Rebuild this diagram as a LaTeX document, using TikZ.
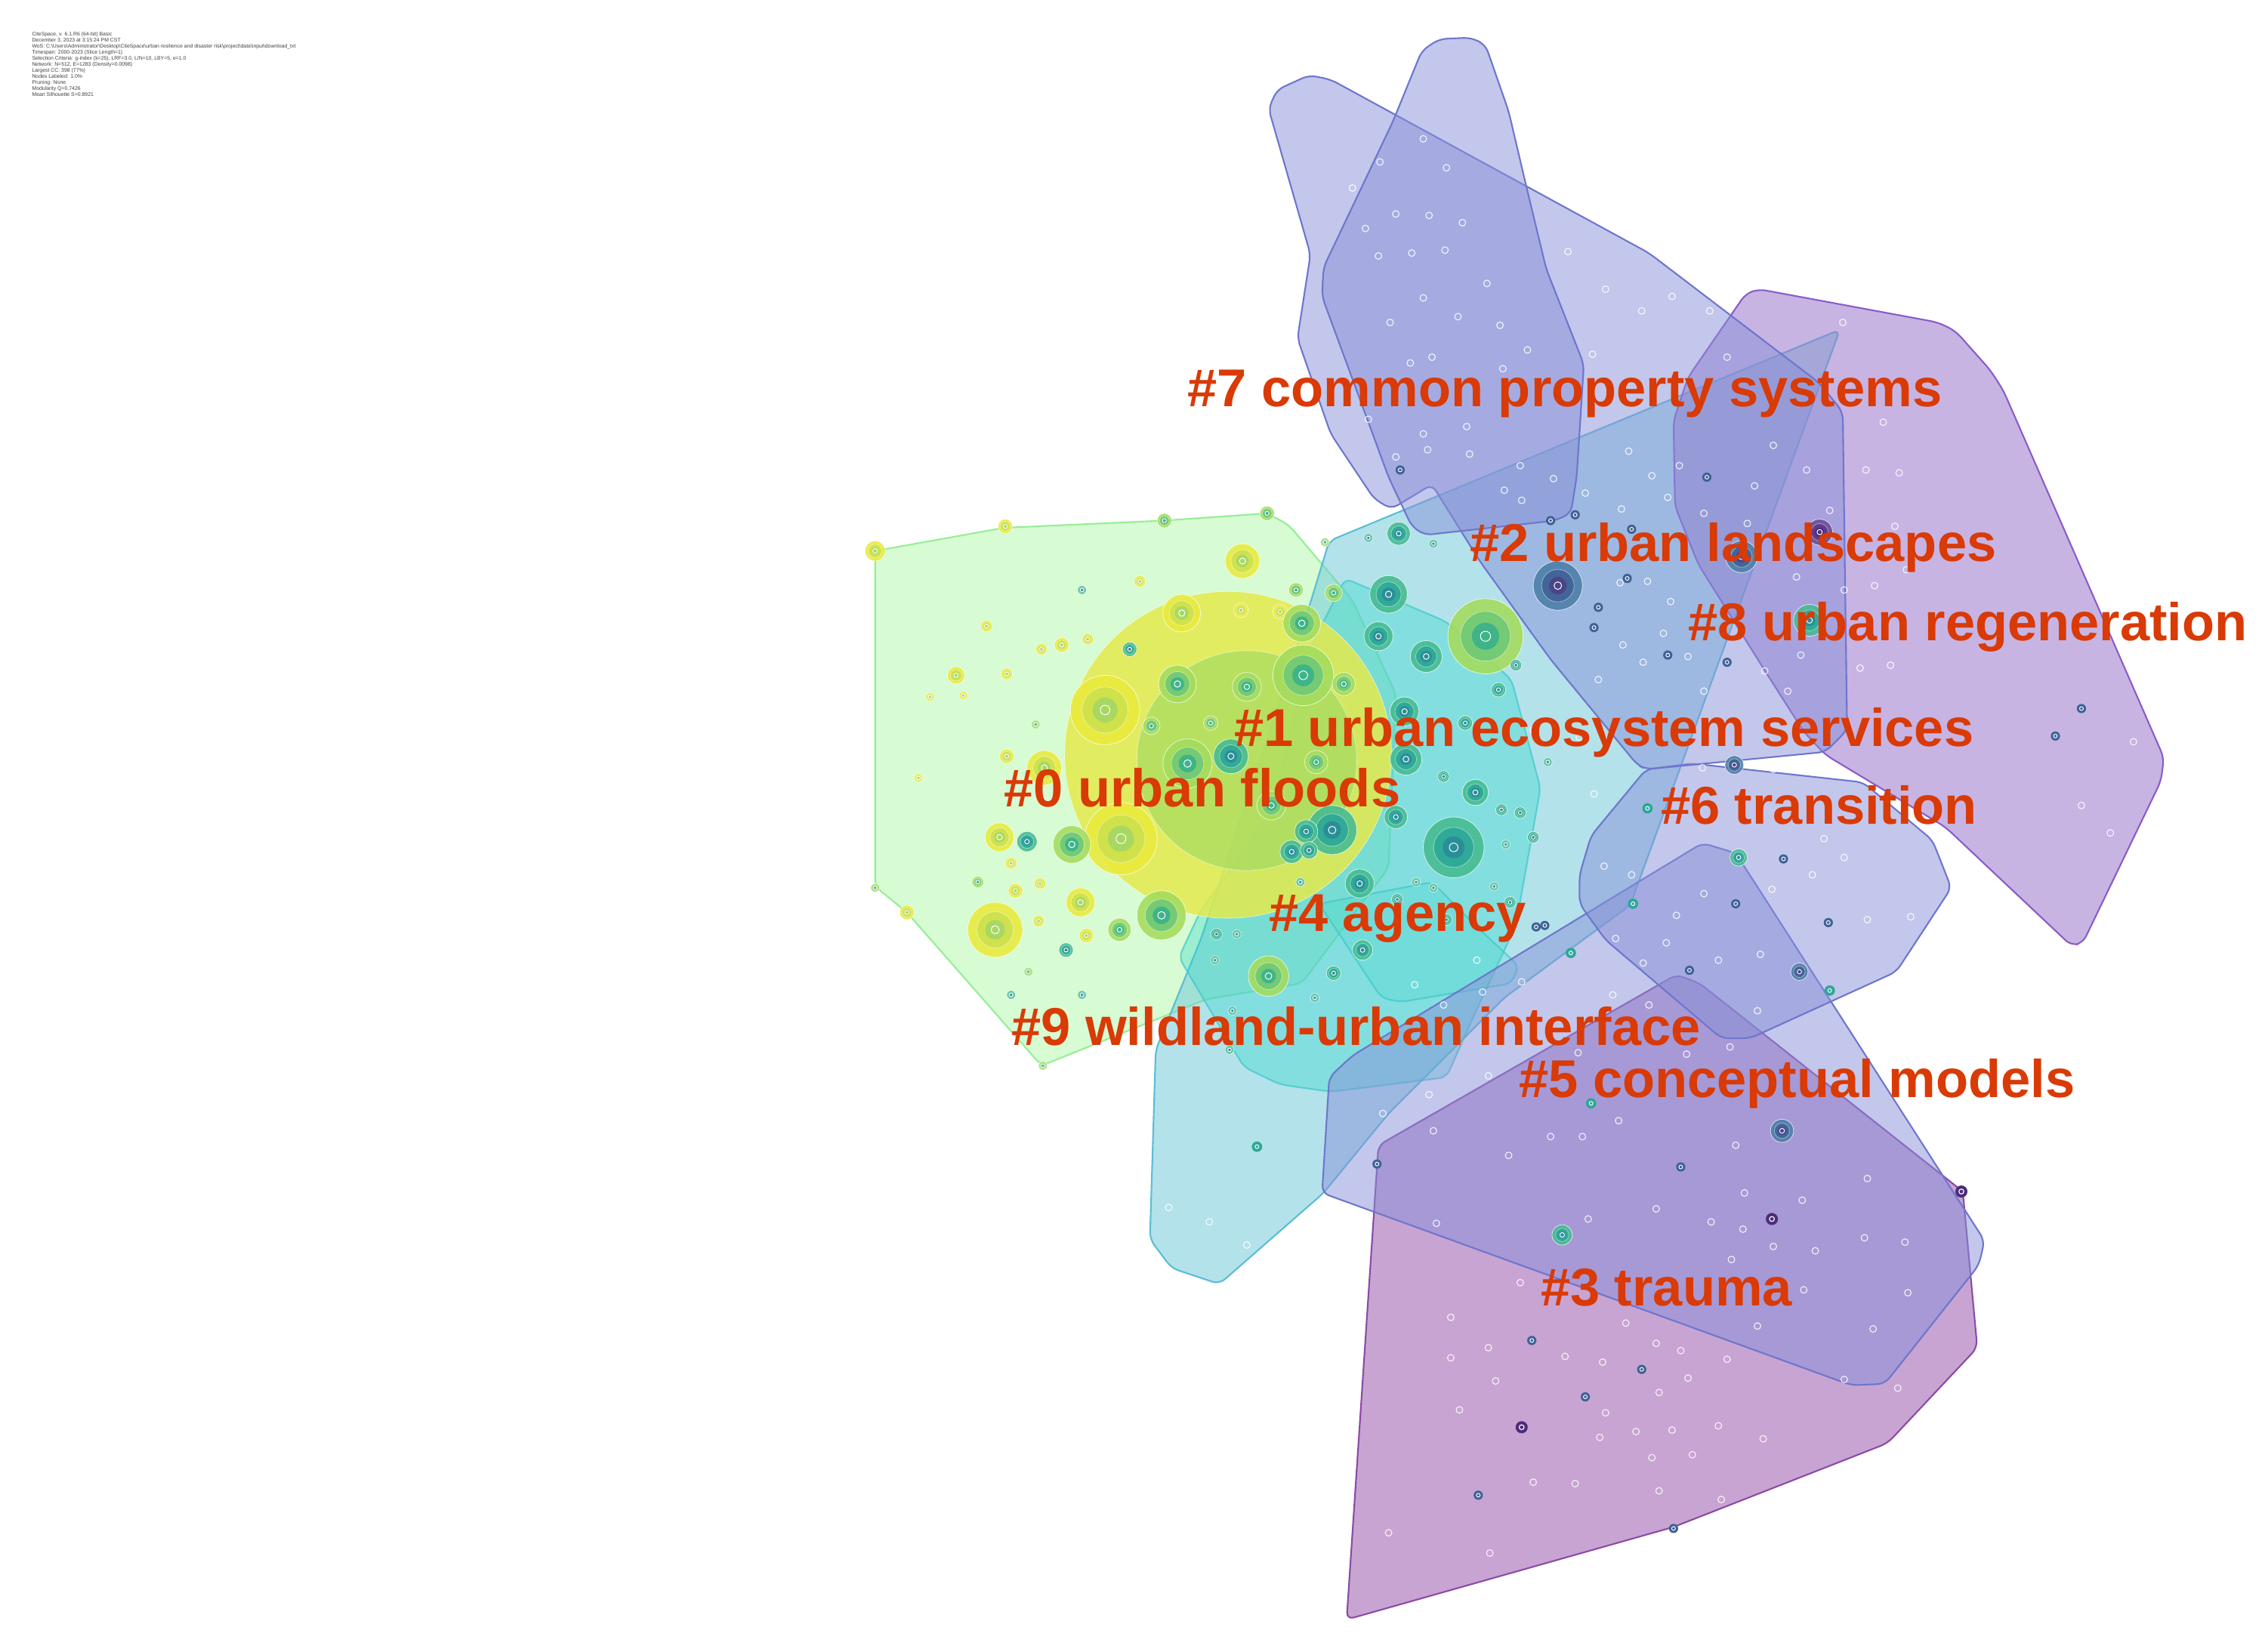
\documentclass[tikz,border=0pt]{standalone}
\usepackage{fontspec}
\setmainfont{Liberation Sans}
\definecolor{labred}{RGB}{217,58,6}
\definecolor{haloY}{RGB}{228,234,78}
\definecolor{haloG}{RGB}{160,218,96}
% node colour sets
\definecolor{Yo}{HTML}{EAEA3C}\definecolor{Ym}{HTML}{CDE24E}\definecolor{Yi}{HTML}{A8D862}
\definecolor{Go}{HTML}{A4DC5C}\definecolor{Gm}{HTML}{70C976}\definecolor{Gi}{HTML}{3EB488}
\definecolor{To}{HTML}{45BB90}\definecolor{Tm}{HTML}{2EA898}\definecolor{Ti}{HTML}{2A8E98}
\definecolor{Do}{HTML}{4C7EA8}\definecolor{Dm}{HTML}{3F6296}\definecolor{Di}{HTML}{4A4488}
\definecolor{Po}{HTML}{6A4C98}\definecolor{Pm}{HTML}{5A3A88}\definecolor{Pi}{HTML}{4E2C78}
\definecolor{cGreenF}{RGB}{150,245,140}\definecolor{cGreenD}{RGB}{150,238,150}
\definecolor{cCyanF}{RGB}{110,200,218}\definecolor{cCyanD}{RGB}{90,190,212}
\definecolor{cTurqF}{RGB}{40,215,200}\definecolor{cTurqD}{RGB}{60,200,200}
\definecolor{cLavF}{RGB}{136,144,216}\definecolor{cLavD}{RGB}{110,118,205}
\definecolor{cPurpF}{RGB}{154,120,204}\definecolor{cPurpD}{RGB}{138,92,200}
\definecolor{cPinkF}{RGB}{156,90,174}\definecolor{cPinkD}{RGB}{139,74,166}
\tikzset{
  hull/.style={rounded corners=5pt, line width=1.1pt},
  hgreen/.style={hull, fill=cGreenF, fill opacity=.38, draw=cGreenD},
  hcyan/.style={hull, fill=cCyanF, fill opacity=.52, draw=cCyanD},
  hturq/.style={hull, fill=cTurqF, fill opacity=.34, draw=cTurqD, draw opacity=.7},
  hlav/.style={hull, fill=cLavF, fill opacity=.5, draw=cLavD},
  hpurp/.style={hull, fill=cPurpF, fill opacity=.55, draw=cPurpD},
  hpink/.style={hull, fill=cPinkF, fill opacity=.55, draw=cPinkD},
  lab/.style={anchor=base west, inner sep=0pt, text=labred, font=\fontsize{36.8}{40}\selectfont\bfseries},
  wmark/.style={draw=white, line width=.6pt, draw opacity=.85},
}
\newcommand\bub[4]{%
  \fill[#4o, fill opacity=.88] (#1,#2) circle[radius=#3pt];
  \fill[#4m, fill opacity=.9] (#1,#2) circle[radius={0.66*#3pt}];
  \fill[#4i] (#1,#2) circle[radius={0.36*#3pt}];
  \draw[white, line width=.4pt, draw opacity=.75] (#1,#2) circle[radius=#3pt];
  \draw[white, line width=.35pt, draw opacity=.5] (#1,#2) circle[radius={0.66*#3pt}];
  \draw[white, line width=.5pt] (#1,#2) circle[radius={0.1*#3pt+0.9pt}];
}
\begin{document}
\begin{tikzpicture}[x=1pt,y=-1pt]
\fill[white] (0,0) rectangle (1568,1142);
\useasboundingbox (0,0) rectangle (1568,1142);

% header text
\node[anchor=north west, inner sep=0pt, align=left, text=black!75,
      font=\fontsize{3.6}{4.18}\selectfont] (hdr) at (22,22) {%
CiteSpace, v. 6.1.R6 (64-bit) Basic\\
December 3, 2023 at 3:15:24 PM CST\\
WoS: C:\textbackslash Users\textbackslash Administrator\textbackslash Desktop\textbackslash CiteSpace\textbackslash urban resilience and disaster risk\textbackslash project\textbackslash data\textbackslash input\textbackslash download\_txt\\
Timespan: 2000-2023 (Slice Length=1)\\
Selection Criteria: g-index (k=25), LRF=3.0, L/N=10, LBY=5, e=1.0\\
Network: N=512, E=1283 (Density=0.0098)\\
Largest CC: 398 (77\%)\\
Nodes Labeled: 1.0\%\\
Pruning: None\\
Modularity Q=0.7426\\
Mean Silhouette S=0.8921};

% ---------- hulls ----------
\draw[hgreen] (605,381) -- (694,365) -- (805,360) -- (876,355) -- (891,363) -- (935,415) -- (965,480) -- (960,600) -- (900,680) -- (834,691) -- (720,737) -- (627,631) -- (605,613) -- cycle;
\draw[hpink] (931,1120) -- (953,792) -- (1159,674) -- (1175,680) -- (1357,824) -- (1367,932) -- (1305,998) -- (1157,1056) -- cycle;
\draw[hcyan] (919,374) -- (1272,228) -- (1127,626) -- (1040,690) -- (960,770) -- (915,825) -- (843,888) -- (810,877) -- (795,857) -- (799,726) -- (830,650) -- (880,500) -- (905,420) -- cycle;
\draw[hturq] (930,400) -- (1000,430) -- (1045,470) -- (1065,545) -- (1048,640) -- (1020,700) -- (1000,745) -- (920,755) -- (885,750) -- (860,738) -- (815,662) -- (830,630) -- (880,560) -- (905,450) -- cycle;
\draw[hturq, fill opacity=.18] (912,625) -- (955,690) -- (968,693) -- (1045,680) -- (1050,668) -- (1020,640) -- (990,610) -- cycle;
\draw[hlav] (914,825) -- (919,745) -- (935,730) -- (1177,583) -- (1200,590) -- (1372,858) -- (1368,875) -- (1303,957) -- (1280,958) -- cycle;
\draw[hlav] (1092,605) -- (1100,578) -- (1138,532) -- (1170,528) -- (1288,541) -- (1336,581) -- (1349,614) -- (1311,672) -- (1210,718) -- (1190,718) -- (1110,650) -- (1092,625) -- cycle;
\draw[hpurp] (1207,203) -- (1216,200) -- (1340,223) -- (1352,229) -- (1376,256) -- (1385,270) -- (1496,524) -- (1494,540) -- (1440,652) -- (1432,654) -- (1345,572) -- (1262,522) -- (1247,506) -- (1219,462) -- (1174,390) -- (1158,350) -- (1157,291) -- (1167,261) -- cycle;
\draw[hlav] (877,75) -- (883,62) -- (905,52) -- (920,55) -- (1140,175) -- (1258,265) -- (1274,285) -- (1277,505) -- (1262,520) -- (1138,532) -- (1132,529) -- (1072,456) -- (1023,388) -- (990,335) -- (962,352) -- (950,345) -- (920,300) -- (897,234) -- (906,176) -- cycle;
\draw[hlav] (983,35) -- (995,27) -- (1017,26) -- (1027,31) -- (1043,77) -- (1055,128) -- (1069,186) -- (1095,252) -- (1090,330) -- (1086,355) -- (1075,360) -- (985,370) -- (976,364) -- (960,330) -- (914,205) -- (915,185) -- (963,84) -- cycle;

% ---------- big halo of cluster #0 ----------
\fill[haloY, fill opacity=.85] (849,522) circle[radius=113pt];
\draw[white, line width=.4pt, draw opacity=.6] (849,522) circle[radius=113pt];
\fill[haloG, fill opacity=.65] (862,526) circle[radius=76pt];
\draw[white, line width=.4pt, draw opacity=.5] (862,526) circle[radius=76pt];

% ---------- small hollow markers ----------
\foreach \x/\y in {984/96,954/112,1000/116,935/130,965/148,988/149,1011/154,944/158,953/177,976/175,999/173,1028/196,984/206,1008/219,961/223,1037/225,990/247,975/251,1056/242,1039/255,946/290,1014/295,984/300,1016/314,987/311,965/316,1040/339,1052/346,1051/322,
1084/174,1110/200,1156/205,1135/215,1182/215,1101/245,1194/247,1274/223,1302/292,1226/308,1290/325,1313/327,1249/325,1161/322,1142/329,1126/312,1074/331,1096/341,1213/336,1121/352,1153/344,1265/353,1208/362,1178/355,1310/364,1242/399,1275/408,1296/405,1318/394,1120/403,1139/402,1155/416,1122/446,1150/438,1136/458,1167/454,1245/453,1286/462,1307/460,1220/464,1178/478,1236/478,1475/513,1439/557,1102/549,1177/531,1226/532,1247/531,
1261/580,1275/593,1253/605,1225/615,1178/618,1109/599,1128/605,1291/636,1321/634,1117/649,1159/633,1152/652,1188/664,1217/660,1136/666,1215/699,1115/688,1140/695,1196/724,1166/729,1091/728,1119/775,1072/786,1094/786,1200/792,1206/825,1246/830,1291/815,1145/836,1098/843,1183/845,1205/850,1226/862,1255/865,1289/856,1317/859,1197/871,1247/892,1319/894,1124/915,1215/917,1295/919,1082/938,1108/942,1145/929,1162/934,1194/940,1167/953,1275/954,1312/960,1147/963,1110/977,1131/990,1106/994,1156/989,1188/986,1219/995,1142/1008,1170/1006,1089/1026,1147/1031,1190/1037,1459/576,
808/835,836/845,862/861,991/782,1029/744,988/757,956/770,1043/799,993/846,1051/887,1003/911,1003/939,1029/932,1034/955,1009/975,1060/1025,960/1060,1030/1074,978/681,998/695,1021/664,1025/686,1052/679,1105/470,1092/510,1060/505}
  {\draw[wmark] (\x,\y) circle[radius=2.3pt];}

% ---------- dark small nodes ----------
\foreach \x/\y in {968/325,1180/330,1128/366,1089/356,1102/434,1153/453,1194/458,1439/490,1421/509,1233/594,1200/625,1264/638,1168/671,1162/807,952/805,1059/927,1135/947,1096/966,1022/1034,1157/1057,1062/641,1068/640,1105/420,1125/400,1072/360}
  {\fill[Dm] (\x,\y) circle[radius=3.2pt]; \draw[white, line width=.5pt] (\x,\y) circle[radius=1.3pt];}
\foreach \x/\y in {1225/843,1356/824,1052/987}
  {\fill[Pi] (\x,\y) circle[radius=4.2pt]; \draw[white, line width=.6pt] (\x,\y) circle[radius=1.7pt];}
\foreach \x/\y in {1129/625,1086/659,1139/559,1265/685,869/793,1100/763}
  {\fill[Tm] (\x,\y) circle[radius=3.6pt]; \draw[white, line width=.5pt] (\x,\y) circle[radius=1.3pt];}

% ---------- larger dark nodes ----------
\bub{1077}{405}{17}{D}
\bub{1204}{385}{11}{D}
\bub{1251}{429}{11}{T}
\bub{1258}{368}{9}{P}
\bub{1244}{672}{6}{D}
\bub{1232}{782}{8}{D}
\bub{1202}{593}{6}{T}
\bub{1199}{529}{6.5}{D}
\bub{1080}{854}{7}{T}

% ---------- teal / green cluster nodes ----------
\bub{1027}{440}{26}{G}
\bub{1005}{586}{21}{T}
\bub{921}{574}{17}{T}
\bub{960}{411}{13}{T}
\bub{953}{440}{10}{T}
\bub{986}{454}{11}{T}
\bub{967}{369}{8}{T}
\bub{971}{492}{10}{T}
\bub{972}{525}{11}{T}
\bub{903}{575}{8}{T}
\bub{893}{589}{8}{T}
\bub{905}{588}{6}{T}
\bub{940}{611}{10}{T}
\bub{942}{657}{7}{T}
\bub{877}{675}{14}{G}
\bub{851}{523}{12}{T}
\bub{1036}{477}{5}{T}
\bub{1048}{460}{4}{T}
\bub{1013}{500}{5}{T}
\bub{998}{537}{4}{T}
\bub{1020}{548}{9}{T}
\bub{1038}{560}{4}{T}
\bub{1051}{562}{4}{T}
\bub{1070}{527}{3}{T}
\bub{946}{372}{3}{T}
\bub{916}{375}{3}{G}
\bub{991}{376}{3}{T}
\bub{841}{646}{4}{T}
\bub{855}{646}{3}{T}
\bub{840}{664}{3}{T}
\bub{922}{673}{5}{T}
\bub{909}{690}{3}{T}
\bub{852}{699}{3}{T}
\bub{899}{610}{3}{T}
\bub{966}{622}{4}{T}
\bub{979}{610}{3}{T}
\bub{991}{614}{3}{T}
\bub{1033}{613}{3}{T}
\bub{1044}{624}{4}{T}
\bub{1000}{636}{4}{T}
\bub{1041}{584}{3}{T}
\bub{1060}{579}{4}{T}
\bub{965}{565}{8}{T}
\bub{879}{557}{10}{G}
\bub{850}{726}{3}{T}

% ---------- yellow / green cluster nodes ----------
\bub{605}{381}{7}{Y}
\bub{695}{364}{5}{Y}
\bub{805}{360}{5}{G}
\bub{876}{355}{5}{G}
\bub{859}{388}{12}{Y}
\bub{748}{408}{3}{T}
\bub{788}{402}{4}{Y}
\bub{896}{408}{5}{G}
\bub{922}{410}{6}{G}
\bub{682}{433}{4}{Y}
\bub{720}{449}{4}{Y}
\bub{734}{446}{5}{Y}
\bub{752}{442}{4}{Y}
\bub{661}{467}{6}{Y}
\bub{696}{466}{4}{Y}
\bub{666}{481}{3}{Y}
\bub{643}{482}{3}{Y}
\bub{635}{538}{3}{Y}
\bub{716}{501}{3}{G}
\bub{696}{523}{5}{Y}
\bub{781}{449}{5}{T}
\bub{817}{424}{13}{Y}
\bub{858}{422}{5}{Y}
\bub{885}{423}{5}{Y}
\bub{900}{431}{13}{G}
\bub{764}{491}{24}{Y}
\bub{814}{473}{13}{G}
\bub{862}{475}{10}{G}
\bub{901}{467}{21}{G}
\bub{929}{473}{8}{G}
\bub{796}{502}{6}{G}
\bub{837}{500}{5}{G}
\bub{821}{528}{17}{G}
\bub{910}{527}{8}{G}
\bub{722}{531}{12}{Y}
\bub{775}{580}{25}{Y}
\bub{741}{584}{13}{G}
\bub{691}{579}{10}{Y}
\bub{710}{582}{7}{T}
\bub{699}{597}{4}{Y}
\bub{719}{611}{4}{Y}
\bub{702}{616}{5}{Y}
\bub{676}{610}{4}{G}
\bub{747}{624}{10}{Y}
\bub{774}{643}{8}{G}
\bub{803}{633}{17}{G}
\bub{688}{643}{19}{Y}
\bub{718}{637}{4}{Y}
\bub{751}{647}{5}{Y}
\bub{737}{657}{5}{T}
\bub{711}{672}{3}{G}
\bub{699}{688}{3}{T}
\bub{748}{688}{3}{T}
\bub{627}{631}{5}{Y}
\bub{605}{614}{3}{G}
\bub{721}{737}{3}{G}

% ---------- cluster labels ----------
\node[lab] (l7) at (821,281) {\#7 common property systems};
\node[lab] (l2) at (1016,388) {\#2 urban landscapes};
\node[lab] (l8) at (1167,443) {\#8 urban regeneration};
\node[lab] (l1) at (853,516) {\#1 urban ecosystem services};
\node[lab] (l0) at (694,558) {\#0 urban floods};
\node[lab] (l6) at (1148,570) {\#6 transition};
\node[lab] (l4) at (877,644) {\#4 agency};
\node[lab] (l9) at (699,723) {\#9 wildland-urban interface};
\node[lab] (l5) at (1050,759) {\#5 conceptual models};
\node[lab] (l3) at (1065,903) {\#3 trauma};
\end{tikzpicture}
\end{document}
